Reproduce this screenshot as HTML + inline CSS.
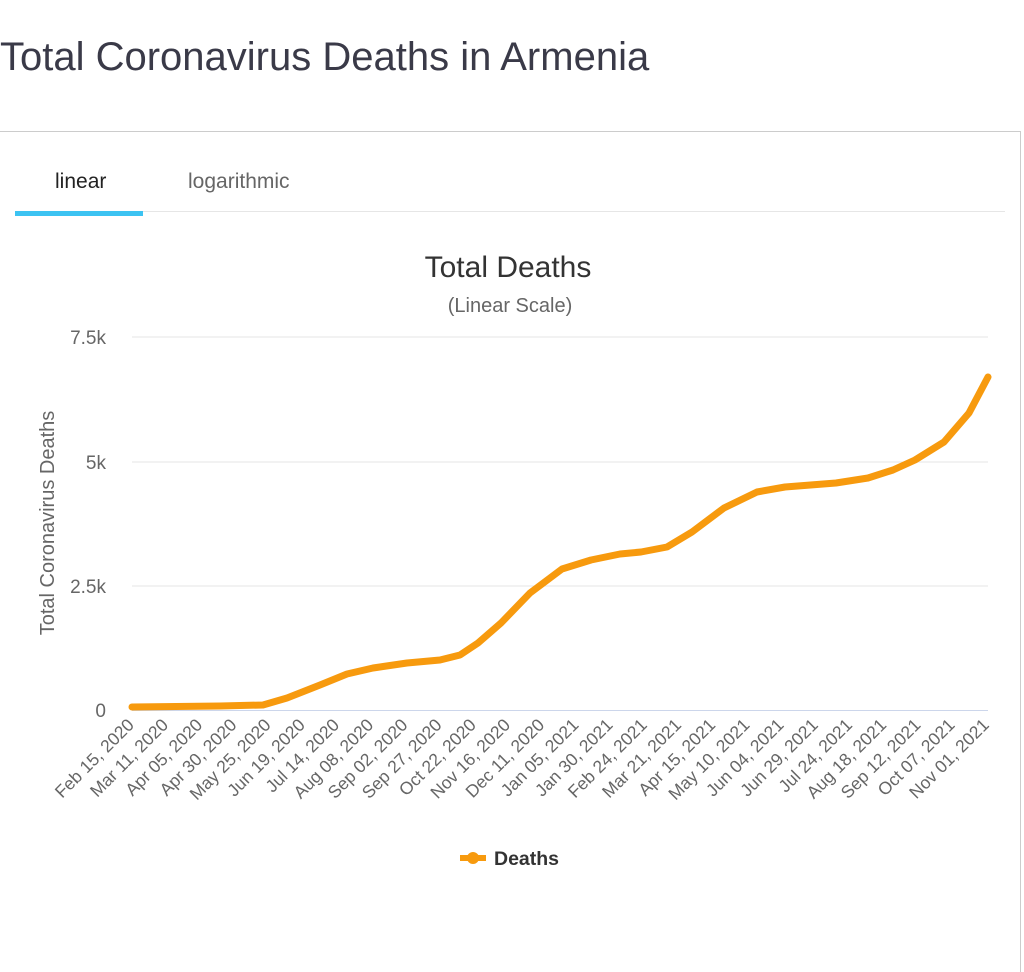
<!DOCTYPE html>
<html><head><meta charset="utf-8"><style>
body{margin:0;width:1024px;height:944px;background:#fff;font-family:"Liberation Sans",sans-serif;overflow:hidden;position:relative}
.title{position:absolute;left:0;top:35px;font-size:40px;color:#3a3a48}
.card{position:absolute;left:0;top:131px;width:1020px;height:840px;border-top:1px solid #ccc;border-right:1px solid #ccc}
</style></head><body>
<div class="title">Total Coronavirus Deaths in Armenia</div>
<div class="card"></div>
<div style="position:absolute;left:55px;top:170px;font-size:21px;color:#222">linear</div>
<div style="position:absolute;left:188px;top:170px;font-size:21px;color:#666">logarithmic</div>
<div style="position:absolute;left:15px;top:211px;width:990px;height:1px;background:#e6e6e6"></div>
<div style="position:absolute;left:15px;top:211px;width:128px;height:5px;background:#3cc3f2"></div>
<svg width="1024" height="944" style="position:absolute;left:0;top:0" font-family="Liberation Sans, sans-serif">
<text x="508" y="277" text-anchor="middle" font-size="30" fill="#333">Total Deaths</text>
<text x="510" y="312" text-anchor="middle" font-size="20" fill="#666">(Linear Scale)</text>
<g stroke="#e6e6e6" stroke-width="1">
<line x1="132" x2="988" y1="337" y2="337"/><line x1="132" x2="988" y1="462" y2="462"/><line x1="132" x2="988" y1="586" y2="586"/>
</g>
<line x1="132" x2="988" y1="710.5" y2="710.5" stroke="#ccd6eb"/>
<g font-size="19" fill="#666" text-anchor="end">
<text x="106" y="344">7.5k</text><text x="106" y="469">5k</text><text x="106" y="593">2.5k</text><text x="106" y="717">0</text>
</g>
<text transform="translate(54,523) rotate(-90)" text-anchor="middle" font-size="20" fill="#666">Total Coronavirus Deaths</text>
<g font-size="17.5" fill="#666" text-anchor="end" id="xl"></g>
<polyline fill="none" stroke="#f79a0e" stroke-width="7" stroke-linejoin="round" stroke-linecap="round" points="132,707 220,706 263,705 287,698 320,685 347,674 373,668 407,663 440,660 460,655 478,643 501,623 530,593 562,569 591,560 620,554 641,552 667,547 692,532 724,508 757,492 785,487 836,483 868,478 893,470 915,460 944,442 969,413 988,377"/>
<line x1="460" x2="486" y1="858" y2="858" stroke="#f79a0e" stroke-width="6"/>
<circle cx="473" cy="858" r="6" fill="#f79a0e"/>
<text x="494" y="865" font-size="19.5" font-weight="bold" fill="#333">Deaths</text>
</svg>
<script>
var L=["Feb 15, 2020","Mar 11, 2020","Apr 05, 2020","Apr 30, 2020","May 25, 2020","Jun 19, 2020","Jul 14, 2020","Aug 08, 2020","Sep 02, 2020","Sep 27, 2020","Oct 22, 2020","Nov 16, 2020","Dec 11, 2020","Jan 05, 2021","Jan 30, 2021","Feb 24, 2021","Mar 21, 2021","Apr 15, 2021","May 10, 2021","Jun 04, 2021","Jun 29, 2021","Jul 24, 2021","Aug 18, 2021","Sep 12, 2021","Oct 07, 2021","Nov 01, 2021"];
var g=document.getElementById("xl"),s="";
L.forEach(function(t,i){var x=135+i*34.2;s+='<text transform="translate('+x+',726) rotate(-45)">'+t+'</text>';});
g.innerHTML=s;
</script>
</body></html>
